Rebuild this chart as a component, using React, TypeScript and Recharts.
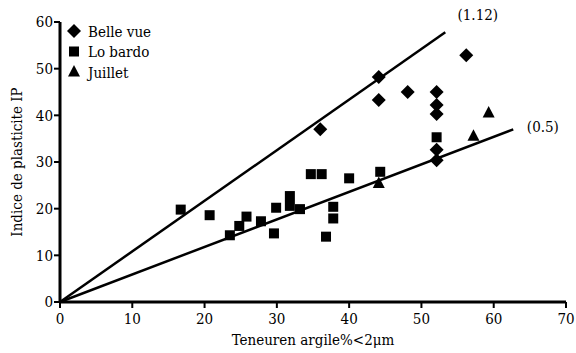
import React from 'react';
import { ScatterChart, Scatter, XAxis, YAxis, ReferenceLine, ReferenceDot, Legend } from 'recharts';

const FONT = "'DejaVu Serif Condensed', 'DejaVu Serif', serif";

const xTicks = [0, 10, 20, 30, 40, 50, 60, 70];
const yTicks = [0, 10, 20, 30, 40, 50, 60];

const seriesNames = ['Belle vue', 'Lo bardo', 'Juillet'];

const belleVueX = [56.2, 44.1, 44.1, 48.1, 52.1, 52.1, 52.1, 36.0, 52.1, 52.1];
const belleVueY = [52.9, 48.2, 43.3, 45.0, 45.0, 42.2, 40.3, 37.0, 32.6, 30.4];

const loBardoX = [16.7, 20.7, 23.5, 24.8, 25.8, 27.8, 29.9, 29.6, 31.8, 31.8, 33.2, 34.7, 36.2, 36.8, 37.8, 37.8, 40.0, 44.3, 52.1];
const loBardoY = [19.8, 18.6, 14.3, 16.3, 18.3, 17.3, 20.2, 14.7, 22.7, 20.6, 19.9, 27.4, 27.4, 14.0, 20.4, 17.9, 26.5, 27.9, 35.3];

const juilletX = [44.1, 57.2, 59.3];
const juilletY = [25.4, 35.5, 40.5];

const upperLine = [{ x: 0, y: 0 }, { x: 53.3, y: 57.8 }];
const lowerLine = [{ x: 0, y: 0 }, { x: 62.7, y: 37.0 }];

const lineLabels = [
  { text: '(1.12)', x: 57.8, y: 61.5 },
  { text: '(0.5)', x: 66.8, y: 37.6 },
];

const toPoints = (xs: number[], ys: number[]) => xs.map((x, i) => ({ x, y: ys[i] }));

const Diamond = (props: any) => {
  const { cx, cy } = props;
  const r = 7;
  return <polygon points={`${cx},${cy - r} ${cx + r},${cy} ${cx},${cy + r} ${cx - r},${cy}`} fill="#000" />;
};
const Square = (props: any) => {
  const { cx, cy } = props;
  return <rect x={cx - 5} y={cy - 5} width={10} height={10} fill="#000" />;
};
const Triangle = (props: any) => {
  const { cx, cy } = props;
  return <polygon points={`${cx},${cy - 7} ${cx + 6},${cy + 4.5} ${cx - 6},${cy + 4.5}`} fill="#000" />;
};

const shapes = [Diamond, Square, Triangle];

const FS = 15;
const txtStyle = { fontFamily: FONT, fontSize: FS };

const renderLegend = () => (
  <svg width={160} height={90} style={{ display: 'block' }}>
    {seriesNames.map((name, i) => {
      const S = shapes[i];
      const cy = 31 + i * 20.5;
      return (
        <g key={name}>
          <S cx={74} cy={cy} />
          <text x={88} y={cy + 5.5} style={txtStyle} fill="#000">{name}</text>
        </g>
      );
    })}
  </svg>
);

const YLabel = (props: any) => {
  const vb = props.viewBox || {};
  const cy = (vb.y ?? 22) + (vb.height ?? 280) / 2;
  return (
    <text x={22} y={cy} transform={`rotate(-90, 22, ${cy})`} textAnchor="middle" style={txtStyle} fill="#000">
      Indice de plasticite IP
    </text>
  );
};

export default function App() {
  return (
    <div style={{ position: 'absolute', left: 0, top: 0, width: 576, height: 353, background: '#fff', fontFamily: FONT }}>
      <ScatterChart width={576} height={353} margin={{ top: 22, right: 10, bottom: 21, left: 0 }} style={{ fontFamily: FONT }}>
        <XAxis
          type="number"
          dataKey="x"
          domain={[0, 70]}
          ticks={xTicks}
          height={30}
          axisLine={{ stroke: '#000', strokeWidth: 3 }}
          tickLine={{ stroke: '#000', strokeWidth: 2 }}
          tickSize={6}
          tickMargin={5}
          tick={{ fill: '#000', fontSize: FS, fontFamily: FONT, style: txtStyle }}
          label={{ value: 'Teneuren argile%<2μm', position: 'bottom', offset: 2, fill: '#000', fontSize: FS, fontFamily: FONT, style: txtStyle }}
        />
        <YAxis
          type="number"
          dataKey="y"
          domain={[0, 60]}
          ticks={yTicks}
          width={60}
          axisLine={{ stroke: '#000', strokeWidth: 3 }}
          tickLine={{ stroke: '#000', strokeWidth: 2 }}
          tickSize={6}
          tickMargin={1}
          tick={{ fill: '#000', fontSize: FS, fontFamily: FONT, style: txtStyle }}
          label={<YLabel />}
        />
        <Legend layout="vertical" align="center" verticalAlign="middle" content={renderLegend}
          wrapperStyle={{ position: 'absolute', left: 0, top: 0, width: 160, height: 90 }} />
        <ReferenceLine segment={upperLine} stroke="#000" strokeWidth={2.5} ifOverflow="visible" />
        <ReferenceLine segment={lowerLine} stroke="#000" strokeWidth={2.5} ifOverflow="visible" />
        <Scatter name={seriesNames[0]} data={toPoints(belleVueX, belleVueY)} shape={Diamond} isAnimationActive={false} />
        <Scatter name={seriesNames[1]} data={toPoints(loBardoX, loBardoY)} shape={Square} isAnimationActive={false} />
        <Scatter name={seriesNames[2]} data={toPoints(juilletX, juilletY)} shape={Triangle} isAnimationActive={false} />
        {lineLabels.map((l) => (
          <ReferenceDot key={l.text} x={l.x} y={l.y} r={0} ifOverflow="visible" stroke="none"
            label={{ value: l.text, position: 'center', fill: '#000', fontSize: FS, fontFamily: FONT, style: txtStyle }} />
        ))}
      </ScatterChart>
    </div>
  );
}
